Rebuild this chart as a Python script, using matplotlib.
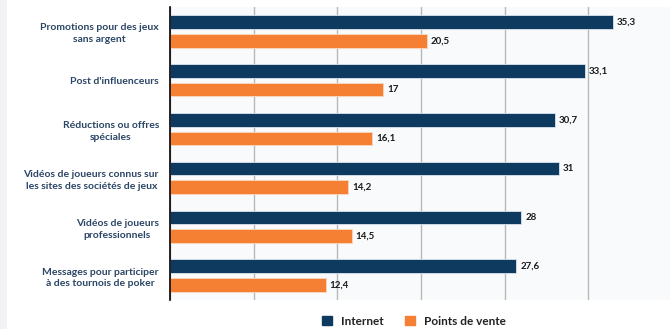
import matplotlib.pyplot as plt
import matplotlib.patches as mpatches
import numpy as np

plt.rcParams['font.family'] = ['Lato', 'DejaVu Sans']

# Données
categories = [
    'Promotions pour des jeux\nsans argent',
    "Post d'influenceurs",
    'Réductions ou offres\nspéciales',
    'Vidéos de joueurs connus sur\nles sites des sociétés de jeux',
    'Vidéos de joueurs\nprofessionnels',
    'Messages pour participer\nà des tournois de poker',
]
internet = [35.3, 33.1, 30.7, 31, 28, 27.6]
points_de_vente = [20.5, 17, 16.1, 14.2, 14.5, 12.4]
series_names = ['Internet', 'Points de vente']

c_internet = '#0f3a60'
c_points = '#f57f33'

fig = plt.figure(figsize=(6.7, 3.29), dpi=100)
fig.patch.set_facecolor('white')
# bande grise à gauche
fig.patches.append(mpatches.Rectangle((0, 0), 7 / 670, 1, transform=fig.transFigure,
                                      facecolor='#f1f2f4', edgecolor='none', zorder=0))

ax = fig.add_axes([170 / 670, 29 / 329, 502 / 670, 293 / 329])
ax.set_facecolor('#f8fafc')

y = np.arange(len(categories))
h = 0.28
off = 0.19
b1 = ax.barh(y - off, internet, height=h, color=c_internet, edgecolor='#dce4ee', linewidth=0.6, zorder=3)
b2 = ax.barh(y + off, points_de_vente, height=h, color=c_points, edgecolor='#f9d7c0', linewidth=0.6, zorder=3)

def fmt(v):
    s = ('%.1f' % v).rstrip('0').rstrip('.')
    return s.replace('.', ',')

for bars, vals in [(b1, internet), (b2, points_de_vente)]:
    for bar, v in zip(bars, vals):
        ax.text(v + 0.3, bar.get_y() + bar.get_height() / 2, fmt(v), va='center', ha='left',
                fontsize=7, fontweight='bold', color='#1a1a1a', zorder=4)

ax.set_xlim(0, 40)
ax.set_ylim(len(categories) - 0.5, -0.5)
ax.set_xticks(np.linspace(0, 40, 7))
ax.set_xticklabels([])
ax.grid(axis='x', color='#b8b8b8', linewidth=1, zorder=0)
ax.set_yticks(y)
ax.set_yticklabels(categories, fontsize=7.5, fontweight='bold', color='#2b4566',
                   ha='right', multialignment='center', linespacing=1.4)
ax.tick_params(axis='both', length=0)
ax.tick_params(axis='y', pad=8)
for s in ['top', 'right', 'bottom']:
    ax.spines[s].set_visible(False)
ax.spines['left'].set_color('black')
ax.spines['left'].set_linewidth(1.2)
ax.spines['left'].set_zorder(5)

handles = [mpatches.Patch(color=c_internet), mpatches.Patch(color=c_points)]
leg = fig.legend(handles, series_names, loc='center', bbox_to_anchor=(0.618, 0.024), ncol=2,
                 frameon=False, fontsize=8.5, handlelength=0.8, handleheight=0.8,
                 columnspacing=1.8, handletextpad=0.8)
for t in leg.get_texts():
    t.set_color('#222222')
    t.set_fontweight('bold')

fig.savefig('out.png', dpi=100, facecolor=fig.get_facecolor())
